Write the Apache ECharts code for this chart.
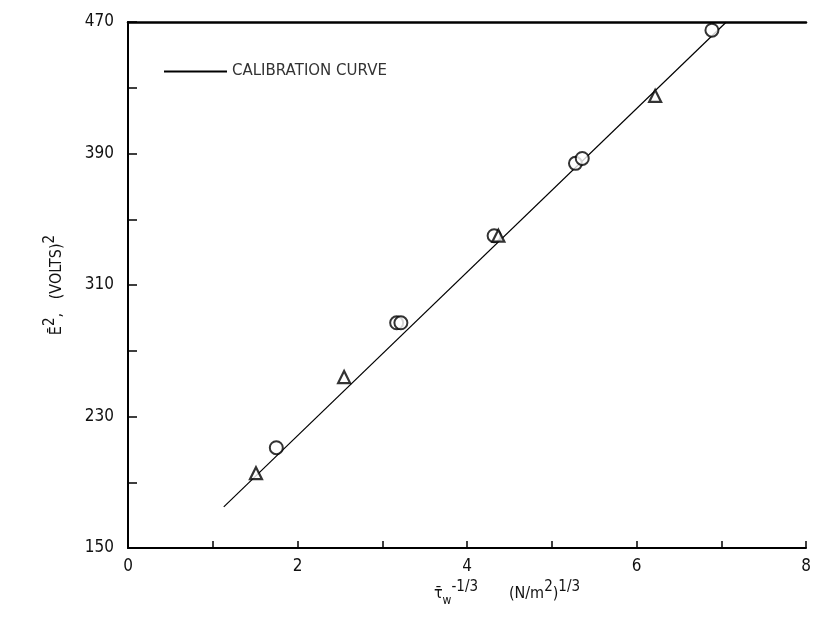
<!DOCTYPE html>
<html>
<head>
<meta charset="utf-8">
<script src="https://cdn.jsdelivr.net/npm/echarts@6/dist/echarts.min.js"></script>
<style>
  html, body { margin: 0; padding: 0; background: #fff; }
  #chart { width: 814px; height: 630px; }
</style>
</head>
<body>
<div id="chart"></div>
<script>
// calibration line (end points)
var lineX = [1.13, 7.06];
var lineY = [175, 470];
// open circles
var circleX = [1.75, 3.17, 3.22, 4.32, 5.28, 5.36, 6.89];
var circleY = [211, 287, 287, 340, 384, 387, 465];
// open triangles
var triX = [1.51, 2.55, 4.37, 6.22];
var triY = [195.5, 254, 340, 425];

var xTicks = [0, 2, 4, 6, 8];
var yTicks = [150, 230, 310, 390, 470];

var font = '"DejaVu Sans Condensed", "Liberation Sans Narrow", "DejaVu Sans", sans-serif';

const pairs = function (xs, ys) {
    return xs.map(function (x, i) { return [x, ys[i]]; });
};

var chart = echarts.init(document.getElementById('chart'));
var axisLine = { lineStyle: { color: '#000', width: 2 } };
chart.setOption({
    animation: false,
    grid: { left: 128, right: 8, top: 22, bottom: 82 },
    legend: {
        left: 159, top: 59,
        itemWidth: 63, itemHeight: 2, itemGap: 10,
        data: [{ name: 'CALIBRATION CURVE', icon: 'rect' }],
        textStyle: { fontFamily: '"DejaVu Sans", sans-serif', fontSize: 15, color: '#333' }
    },
    xAxis: [{
        type: 'value', min: 0, max: 8, interval: 2,
        axisLine: axisLine,
        axisTick: { inside: true, length: 7, lineStyle: { color: '#000', width: 1.5 } },
        minorTick: { show: true, splitNumber: 2, length: 7, lineStyle: { color: '#000', width: 1.5 } },
        splitLine: { show: false },
        axisLabel: {
            fontFamily: font, fontSize: 17, color: '#111', margin: 10,
            formatter: function (v) { return xTicks.indexOf(v) >= 0 ? String(v) : ''; }
        },
        name: '{b|τ̄}{s|w}{p|-1/3}         {b|(N/m}{p|2}{b|)}{p|1/3}',
        nameLocation: 'middle', nameGap: 32,
        nameTextStyle: {
            fontFamily: font,
            padding: [0, 0, 0, 80],
            rich: {
                b: { fontFamily: font, fontSize: 16, color: '#111' },
                s: { fontFamily: font, fontSize: 12, color: '#111', verticalAlign: 'bottom', padding: [14, 0, 0, 0] },
                p: { fontFamily: font, fontSize: 15, color: '#111', verticalAlign: 'top', padding: [0, 0, 12, 0] }
            }
        }
    }, {
        type: 'value', min: 0, max: 8, position: 'top',
        axisLine: { lineStyle: { color: '#000', width: 2.5 } },
        axisTick: { show: false }, axisLabel: { show: false }, splitLine: { show: false }
    }],
    yAxis: [{
        type: 'value', min: 150, max: 470, interval: 80,
        axisLine: axisLine,
        axisTick: { inside: true, length: 9, lineStyle: { color: '#000', width: 1.5 } },
        minorTick: { show: true, splitNumber: 2, length: 9, lineStyle: { color: '#000', width: 1.5 } },
        splitLine: { show: false },
        axisLabel: {
            fontFamily: font, fontSize: 17, color: '#111', margin: 14,
            formatter: function (v) { return yTicks.indexOf(v) >= 0 ? String(v) : ''; }
        },
        name: '{b|Ē}{p|2}{b|,   (VOLTS)}{p|2}',
        nameLocation: 'middle', nameRotate: 90, nameGap: 58,
        nameTextStyle: {
            fontFamily: font,
            rich: {
                b: { fontFamily: font, fontSize: 16, color: '#111' },
                p: { fontFamily: font, fontSize: 15, color: '#111', verticalAlign: 'top', padding: [0, 0, 12, 0] }
            }
        }
    }, {
        type: 'value', min: 150, max: 470, position: 'right',
        axisLine: { lineStyle: { color: '#000', width: 1.5 } },
        axisTick: { show: false }, axisLabel: { show: false }, splitLine: { show: false }
    }],
    series: [{
        name: 'CALIBRATION CURVE',
        type: 'line',
        data: pairs(lineX, lineY),
        symbol: 'none',
        lineStyle: { color: '#000', width: 1.2 },
        itemStyle: { color: '#000' }
    }, {
        name: 'circles',
        type: 'scatter',
        data: pairs(circleX, circleY),
        symbol: 'circle', symbolSize: 13,
        itemStyle: { color: '#fff', borderColor: '#000', borderWidth: 2 },
        z: 3
    }, {
        name: 'triangles',
        type: 'scatter',
        data: pairs(triX, triY),
        symbol: 'triangle', symbolSize: 12,
        itemStyle: { color: '#fff', borderColor: '#000', borderWidth: 2.2 },
        z: 4
    }]
});
</script>
</body>
</html>
